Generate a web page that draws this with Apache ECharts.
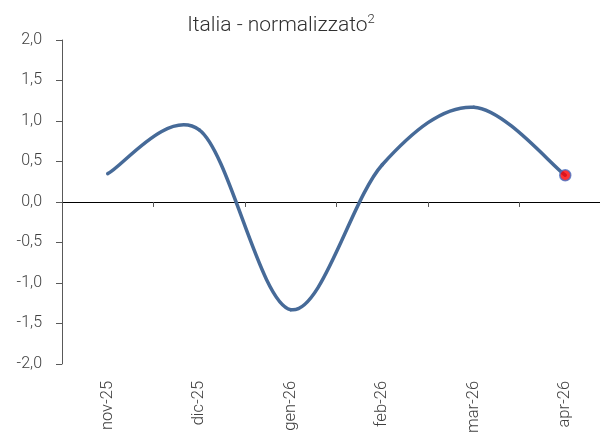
<!DOCTYPE html>
<html>
<head>
<meta charset="utf-8">
<script src="https://cdn.jsdelivr.net/npm/echarts@6/dist/echarts.min.js"></script>
<style>
html,body{margin:0;padding:0;background:#fff;overflow:hidden;width:600px;height:436px;}
#c{width:611px;height:436px;}
</style>
</head>
<body>
<div id="c"></div>
<script>
var categories = ['nov-25', 'dic-25', 'gen-26', 'feb-26', 'mar-26', 'apr-26'];
var values = [0.35, 0.89, -1.33, 0.46, 1.17, 0.33];
var yTicks = [-2, -1.5, -1, -0.5, 0, 0.5, 1, 1.5, 2];
var titleMain = 'Italia - normalizzato';
var titleSup = '2';

var lastIdx = values.length - 1;
var lastPoint = values.map(function (v, i) { return i === lastIdx ? v : '-'; });
var lineData = values.map(function (v, i) { return [i, v]; });

var LINE_COLOR = '#466a98';

// Excel-like (Catmull-Rom) smoothed segment from point i to i+1, using the axes' scales
function renderSegment(params, api) {
  var i = params.dataIndex;
  if (i >= values.length - 1) return null;
  var n = values.length;
  var P = function (k) {
    k = Math.max(0, Math.min(n - 1, k));
    return api.coord([k, values[k]]);
  };
  var p0 = P(i - 1), p1 = P(i), p2 = P(i + 1), p3 = P(i + 2);
  var t = 1 / 6;
  return {
    type: 'bezierCurve',
    shape: {
      x1: p1[0], y1: p1[1],
      cpx1: p1[0] + (p2[0] - p0[0]) * t, cpy1: p1[1] + (p2[1] - p0[1]) * t,
      cpx2: p2[0] - (p3[0] - p1[0]) * t, cpy2: p2[1] - (p3[1] - p1[1]) * t,
      x2: p2[0], y2: p2[1]
    },
    style: {fill: null, stroke: LINE_COLOR, lineWidth: 3.5, lineCap: 'round', lineJoin: 'round'}
  };
}

var chart = echarts.init(document.getElementById('c'), null, {renderer: 'canvas'});
chart.setOption({
  animation: false,
  backgroundColor: '#ffffff',
  title: {
    text: '{t|' + titleMain + '}{s|' + titleSup + '}',
    left: 276,
    top: 8,
    textAlign: 'center',
    textStyle: {
      rich: {
        t: {fontFamily: 'Roboto', fontWeight: 300, fontSize: 21, color: '#303030', lineHeight: 25},
        s: {fontFamily: 'Roboto', fontWeight: 300, fontSize: 13, color: '#303030', lineHeight: 13, verticalAlign: 'top'}
      }
    }
  },
  grid: {left: 62, top: 40, right: 0, bottom: 71.5, containLabel: false},
  xAxis: [
    {
      type: 'category',
      data: categories,
      boundaryGap: true,
      axisLine: {onZero: true, lineStyle: {color: '#000000', width: 1}},
      axisTick: {show: true, length: 5, lineStyle: {color: '#555555', width: 1}},
      axisLabel: {show: false},
      splitLine: {show: false}
    },
    {
      type: 'category',
      data: categories,
      boundaryGap: true,
      position: 'bottom',
      axisLine: {show: false, onZero: false},
      axisTick: {show: false},
      axisLabel: {
        show: true, rotate: 90, margin: 17, interval: 0,
        fontFamily: 'Roboto', fontWeight: 300, fontSize: 16.5, color: '#404040'
      },
      splitLine: {show: false}
    }
  ],
  yAxis: {
    type: 'value',
    min: -2, max: 2, interval: 0.5,
    axisLine: {show: true, onZero: false, lineStyle: {color: '#595959', width: 1}},
    axisTick: {show: true, length: 6, lineStyle: {color: '#595959', width: 1}},
    axisLabel: {
      margin: 20,
      fontFamily: 'Roboto', fontWeight: 300, fontSize: 16, color: '#404040',
      formatter: function (v) { return v.toFixed(1).replace('.', ','); }
    },
    splitLine: {show: false}
  },
  series: [
    {
      type: 'custom',
      xAxisIndex: 0,
      yAxisIndex: 0,
      data: lineData,
      encode: {x: 0, y: 1},
      renderItem: renderSegment,
      clip: false,
      z: 2
    },
    {
      type: 'scatter',
      xAxisIndex: 0,
      data: lastPoint,
      symbol: 'circle',
      symbolSize: 11,
      itemStyle: {color: '#ff0000', borderColor: '#4a72c4', borderWidth: 1.5},
      z: 3
    }
  ]
});
</script>
</body>
</html>
